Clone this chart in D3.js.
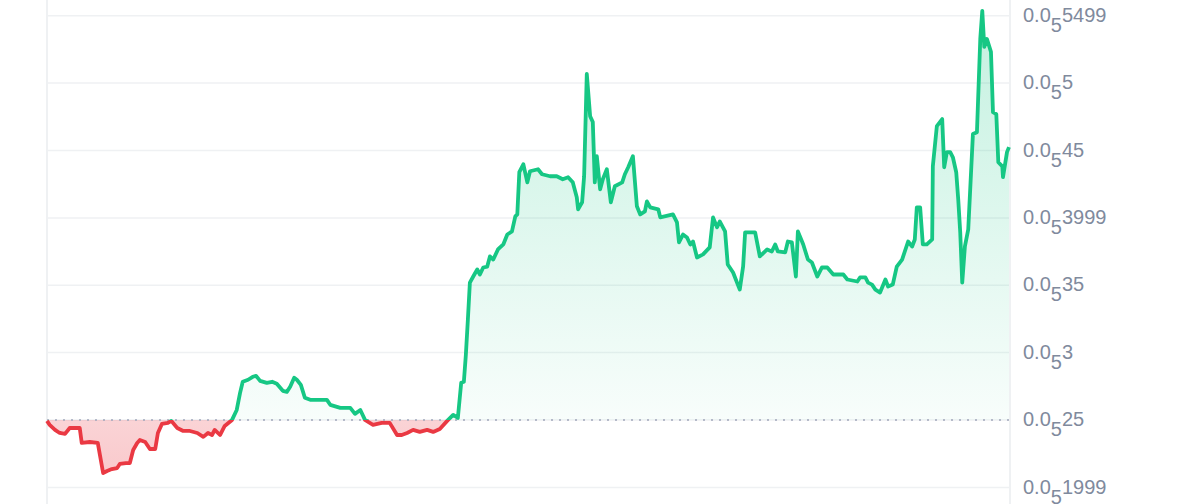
<!DOCTYPE html>
<html>
<head>
<meta charset="utf-8">
<script src="https://cdn.jsdelivr.net/npm/d3@7/dist/d3.min.js"></script>
<style>
  html, body { margin: 0; padding: 0; background: #fff; }
  svg { display: block; }
</style>
</head>
<body>
<svg id="chart"></svg>
<script>
// minutes since start of the window
const times = [
  0, 4, 12, 19, 27, 34, 49, 52, 64, 76, 84, 90, 97, 105, 109, 118, 124, 129, 135, 139,
  147, 154, 162, 166, 172, 181, 186, 195, 204, 214, 225, 234, 241, 247, 251, 259, 266, 277, 284, 289,
  293, 301, 308, 313, 319, 329, 337, 344, 353, 359, 364, 370, 374, 380, 386, 394, 406, 419, 424, 439,
  454, 461, 469, 476, 488, 501, 513, 524, 531, 539, 548, 558, 569, 578, 588, 599, 608, 615, 620, 624,
  627, 630, 633, 638, 644, 648, 653, 659, 663, 668, 675, 683, 689, 696, 701, 704, 707, 713, 719, 723,
  735, 741, 753, 763, 772, 780, 787, 793, 795, 801, 804, 808, 813, 817, 820, 823, 828, 832, 838, 844,
  850, 861, 865, 870, 877, 883, 888, 895, 898, 903, 915, 918, 937, 943, 946, 952, 958, 963, 967, 973,
  982, 992, 997, 1003, 1007, 1015, 1019, 1027, 1037, 1042, 1045, 1060, 1067, 1078, 1085, 1090, 1094, 1105, 1109, 1115,
  1121, 1124, 1132, 1139, 1145, 1153, 1160, 1168, 1177, 1192, 1198, 1213, 1217, 1225, 1229, 1235, 1240, 1247, 1255, 1259,
  1266, 1272, 1280, 1289, 1295, 1299, 1302, 1307, 1311, 1317, 1325, 1326, 1332, 1340, 1343, 1347, 1352, 1356, 1361, 1364,
  1367, 1370, 1374, 1379, 1386, 1392, 1397, 1400, 1403, 1407, 1413, 1416, 1421, 1424, 1430, 1431, 1437, 1440
];

// price in millionths (0.0₅25 = 0.0000025 = 2.5)
const prices = [
  2.493, 2.463, 2.426, 2.403, 2.396, 2.440, 2.440, 2.329, 2.336, 2.329, 2.106, 2.121, 2.135, 2.143, 2.173, 2.180, 2.180, 2.277, 2.329, 2.351,
  2.336, 2.284, 2.284, 2.403, 2.470, 2.478, 2.493, 2.440, 2.418, 2.418, 2.403, 2.374, 2.403, 2.388, 2.426, 2.388, 2.455, 2.500, 2.574, 2.701,
  2.783, 2.798, 2.820, 2.827, 2.790, 2.775, 2.783, 2.768, 2.716, 2.708, 2.746, 2.813, 2.798, 2.760, 2.664, 2.649, 2.649, 2.649, 2.612, 2.589,
  2.589, 2.545, 2.574, 2.500, 2.463, 2.478, 2.478, 2.388, 2.388, 2.403, 2.426, 2.411, 2.426, 2.411, 2.433, 2.493, 2.537, 2.515, 2.775, 2.783,
  2.984, 3.244, 3.519, 3.564, 3.616, 3.579, 3.631, 3.638, 3.713, 3.690, 3.765, 3.802, 3.876, 3.899, 4.010, 4.025, 4.338, 4.397, 4.263, 4.345,
  4.360, 4.323, 4.308, 4.308, 4.286, 4.301, 4.263, 4.152, 4.063, 4.115, 4.308, 5.067, 4.754, 4.710, 4.263, 4.457, 4.211, 4.286, 4.360, 4.115,
  4.234, 4.263, 4.323, 4.375, 4.457, 4.085, 4.025, 4.048, 4.122, 4.077, 4.063, 4.003, 4.025, 3.966, 3.817, 3.876, 3.854, 3.802, 3.824, 3.705,
  3.728, 3.780, 4.003, 3.929, 3.973, 3.899, 3.653, 3.594, 3.467, 3.638, 3.891, 3.891, 3.713, 3.765, 3.750, 3.802, 3.750, 3.743, 3.824, 3.817,
  3.564, 3.899, 3.802, 3.690, 3.668, 3.564, 3.631, 3.631, 3.579, 3.579, 3.542, 3.527, 3.557, 3.557, 3.519, 3.504, 3.467, 3.445, 3.542, 3.490,
  3.504, 3.638, 3.690, 3.824, 3.787, 3.839, 4.077, 4.077, 3.802, 3.802, 3.839, 4.382, 4.680, 4.732, 4.375, 4.487, 4.487, 4.449, 4.338, 4.137,
  3.891, 3.519, 3.787, 3.914, 4.621, 4.635, 5.327, 5.536, 5.268, 5.327, 5.231, 4.784, 4.769, 4.412, 4.382, 4.301, 4.487, 4.524
];

const baseline = 2.5;
const tickValues = [1.999, 2.5, 3.0, 3.5, 3.999, 4.5, 5.0, 5.499];
const tickLabels = ["1999", "25", "3", "35", "3999", "45", "5", "5499"];

const W = 1200, H = 504;
const left = 47, right = 1010;

const data = times.map((t, i) => ({t, p: prices[i]}));

const svg = d3.select("#chart").attr("width", W).attr("height", H);

const x = d3.scaleLinear().domain([0, 1440]).range([left, right - 1]);
const y = d3.scaleLinear().domain([1.876, 5.616]).range([H, 0]);
const yb = y(baseline);

const defs = svg.append("defs");

const gUp = defs.append("linearGradient").attr("id", "gUp")
  .attr("gradientUnits", "userSpaceOnUse").attr("x1", 0).attr("x2", 0).attr("y1", 0).attr("y2", yb);
gUp.append("stop").attr("offset", 0).attr("stop-color", "#16c784").attr("stop-opacity", 0.26);
gUp.append("stop").attr("offset", 1).attr("stop-color", "#16c784").attr("stop-opacity", 0.03);

const gDown = defs.append("linearGradient").attr("id", "gDown")
  .attr("gradientUnits", "userSpaceOnUse").attr("x1", 0).attr("x2", 0).attr("y1", yb).attr("y2", H);
gDown.append("stop").attr("offset", 0).attr("stop-color", "#ea3943").attr("stop-opacity", 0.22);
gDown.append("stop").attr("offset", 1).attr("stop-color", "#ea3943").attr("stop-opacity", 0.3);

defs.append("clipPath").attr("id", "clipUp")
  .append("rect").attr("x", 0).attr("y", 0).attr("width", W).attr("height", yb);
defs.append("clipPath").attr("id", "clipDown")
  .append("rect").attr("x", 0).attr("y", yb).attr("width", W).attr("height", H - yb);

// grid
svg.append("g").selectAll("line").data(tickValues).join("line")
  .attr("x1", left).attr("x2", right)
  .attr("y1", d => y(d)).attr("y2", d => y(d))
  .attr("stroke", "#eff1f3").attr("stroke-width", 1.5);

svg.append("line").attr("x1", left).attr("x2", left).attr("y1", 0).attr("y2", H)
  .attr("stroke", "#eff1f3").attr("stroke-width", 2);
svg.append("line").attr("x1", right).attr("x2", right).attr("y1", 0).attr("y2", H)
  .attr("stroke", "#eff1f3").attr("stroke-width", 2);

// areas
const area = d3.area().x(d => x(d.t)).y0(yb).y1(d => y(d.p));
svg.append("path").datum(data).attr("d", area)
  .attr("fill", "url(#gUp)").attr("clip-path", "url(#clipUp)");
svg.append("path").datum(data).attr("d", area)
  .attr("fill", "url(#gDown)").attr("clip-path", "url(#clipDown)");

// baseline
svg.append("line").attr("x1", left).attr("x2", right).attr("y1", yb).attr("y2", yb)
  .attr("stroke", "#a1a7bb").attr("stroke-width", 1.5).attr("stroke-dasharray", "2,6");

// price line
const line = d3.line().x(d => x(d.t)).y(d => y(d.p));
svg.append("path").datum(data).attr("d", line)
  .attr("fill", "none").attr("stroke", "#16c784").attr("stroke-width", 3.8)
  .attr("stroke-linejoin", "round").attr("clip-path", "url(#clipUp)");
svg.append("path").datum(data).attr("d", line)
  .attr("fill", "none").attr("stroke", "#ea3943").attr("stroke-width", 3.8)
  .attr("stroke-linejoin", "round").attr("clip-path", "url(#clipDown)");

// y labels: 0.0₅xxxx (subscript same size, shifted down)
const labels = svg.append("g").selectAll("text").data(tickValues).join("text")
  .attr("x", 1023).attr("y", d => y(d) + 6.3)
  .attr("fill", "#808a9d")
  .style("font-family", "'Liberation Sans', Arial, sans-serif")
  .style("font-size", "20px");
labels.append("tspan").text("0.0");
labels.append("tspan").attr("dy", 10).text("5");
labels.append("tspan").attr("dy", -10).text((d, i) => tickLabels[i]);
</script>
</body>
</html>
